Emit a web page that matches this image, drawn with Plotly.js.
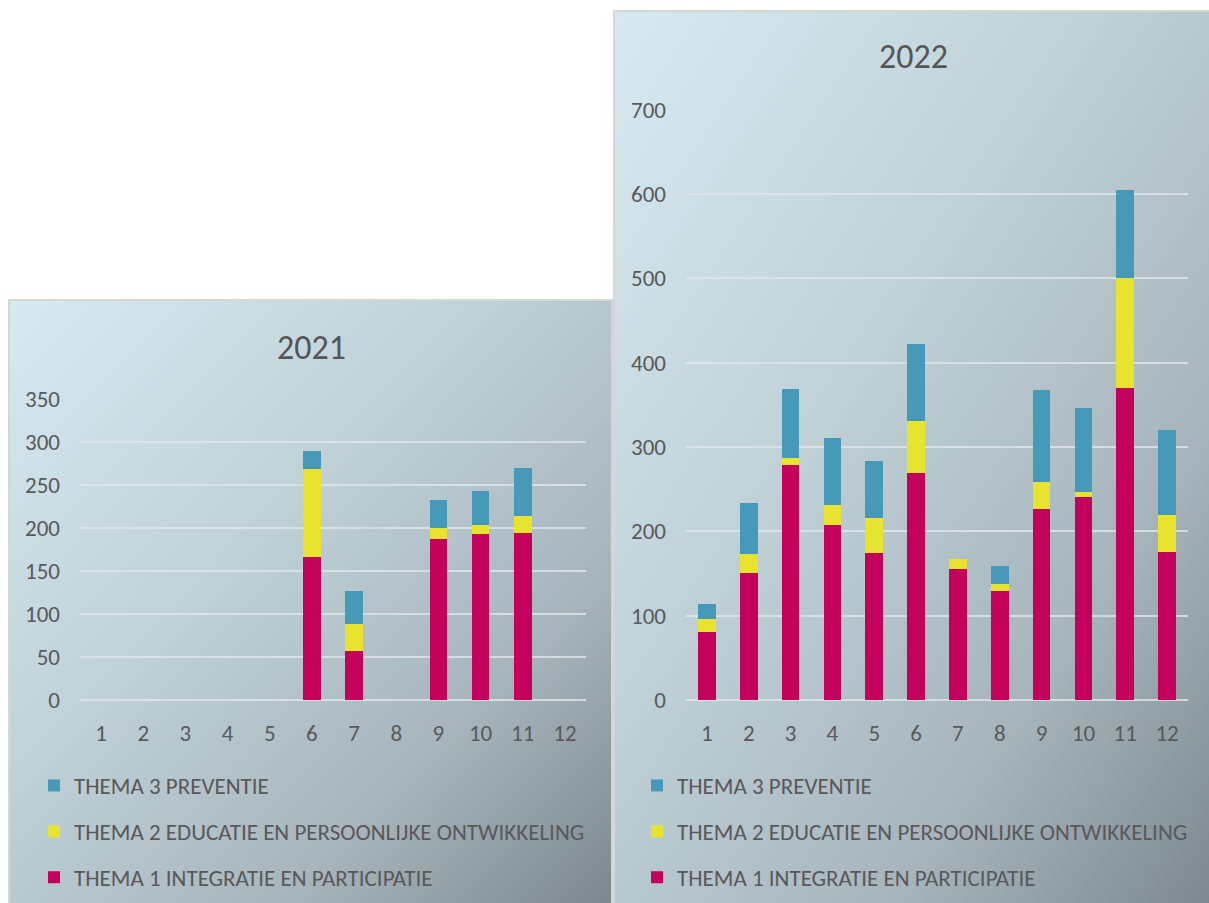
<!DOCTYPE html>
<html>
<head>
<meta charset="utf-8">
<script src="https://cdn.plot.ly/plotly-3.0.1.min.js"></script>
<style>
  html, body { margin: 0; padding: 0; background: #ffffff; width: 1209px; height: 903px; overflow: hidden; }
  .panel { position: absolute; box-sizing: border-box; border: 2px solid #d6d6d6; }
  #p1 { left: 8px; top: 299px; width: 605px; height: 620px;
        background: linear-gradient(to bottom right, #d8eaf1 0%, #bfd0d7 40%, #a7b5bb 72%, #7a868c 100%); }
  #p2 { left: 613px; top: 10px; width: 610px; height: 910px;
        background: linear-gradient(to bottom right, #d8eaf1 0%, #bfd0d7 40%, #a7b5bb 72%, #7a868c 100%); }
  #chart { position: absolute; left: 0; top: 0; width: 1209px; height: 903px; }
</style>
</head>
<body>
<div class="panel" id="p1"></div>
<div class="panel" id="p2"></div>
<div id="chart"></div>
<script>
// ---- data ----
const months = ["1","2","3","4","5","6","7","8","9","10","11","12"];
const seriesNames = ["THEMA 1 INTEGRATIE EN PARTICIPATIE", "THEMA 2 EDUCATIE EN PERSOONLIJKE ONTWIKKELING", "THEMA 3 PREVENTIE"];
const thema1_2021 = [null, null, null, null, null, 166, 57, null, 187, 193, 194, null];
const thema2_2021 = [null, null, null, null, null, 103, 31, null, 13, 10, 20, null];
const thema3_2021 = [null, null, null, null, null, 21, 39, null, 32, 40, 56, null];
const thema1_2022 = [81, 150, 278, 208, 174, 269, 155, 129, 227, 241, 370, 176];
const thema2_2022 = [15, 23, 9, 23, 42, 62, 12, 9, 32, 5, 130, 43];
const thema3_2022 = [18, 60, 82, 79, 67, 91, 0, 21, 108, 100, 105, 101];
const titles = ["2021", "2022"];

// ---- styling ----
const colors = ["#c3005c", "#e7e32e", "#4699b9"];
const FONT = "Carlito, Lato, sans-serif";
const W = 1209, H = 903;
const px = v => v / W;
const py = v => (H - v) / H;

function mk(y, i, xa, ya, leg) {
  return { type: "bar", x: months, y: y, name: seriesNames[i], xaxis: xa, yaxis: ya,
           marker: { color: colors[i] }, legend: leg, legendgroup: leg + i, legendrank: 3 - i,
           hoverinfo: "x+y+name" };
}
const data = [
  mk(thema1_2021, 0, "x", "y", "legend"),
  mk(thema2_2021, 1, "x", "y", "legend"),
  mk(thema3_2021, 2, "x", "y", "legend"),
  mk(thema1_2022, 0, "x2", "y2", "legend2"),
  mk(thema2_2022, 1, "x2", "y2", "legend2"),
  mk(thema3_2022, 2, "x2", "y2", "legend2")
];

const tickFont = { family: FONT, size: 23, color: "#595959" };
const gridC = "rgba(225,230,233,0.8)";
function xax(dom, anc) {
  return { domain: dom, anchor: anc, type: "category", showgrid: false, zeroline: false, showline: false,
           ticks: "", tickfont: tickFont, ticklabelstandoff: 17, fixedrange: true };
}
function yax(dom, rng, dt, anc) {
  return { domain: dom, anchor: anc, range: rng, dtick: dt, showgrid: true, gridcolor: gridC, gridwidth: 2,
           zeroline: true, zerolinecolor: gridC, zerolinewidth: 2, showline: false, ticks: "",
           tickfont: tickFont, ticklabelstandoff: 19, fixedrange: true };
}
function leg(x) {
  return { x: px(x), y: py(764), xref: "paper", yref: "paper", xanchor: "left", yanchor: "top",
           traceorder: "grouped", tracegroupgap: 13, bgcolor: "rgba(0,0,0,0)",
           font: { family: FONT, size: 23, color: "#595959" }, itemclick: false };
}

const layout = {
  width: W, height: H, margin: { l: 0, r: 0, t: 0, b: 0, autoexpand: false },
  paper_bgcolor: "rgba(0,0,0,0)", plot_bgcolor: "rgba(0,0,0,0)",
  barmode: "stack", bargap: 0.58, showlegend: true,
  font: { family: FONT, color: "#595959" },
  xaxis: xax([px(80), px(586)], "y"),
  yaxis: yax([py(700), py(399)], [0, 350], 50, "x"),
  xaxis2: xax([px(686), px(1188)], "y2"),
  yaxis2: yax([py(700), py(109.5)], [0, 700], 100, "x2"),
  legend: leg(34),
  legend2: leg(637),
  annotations: [
    { text: titles[0], x: px(311), y: py(347), xref: "paper", yref: "paper", showarrow: false,
      xanchor: "center", yanchor: "middle", font: { family: FONT, size: 34, color: "#555555" } },
    { text: titles[1], x: px(913), y: py(57), xref: "paper", yref: "paper", showarrow: false,
      xanchor: "center", yanchor: "middle", font: { family: FONT, size: 34, color: "#555555" } }
  ]
};

Plotly.newPlot("chart", data, layout, { displayModeBar: false });
</script>
</body>
</html>
